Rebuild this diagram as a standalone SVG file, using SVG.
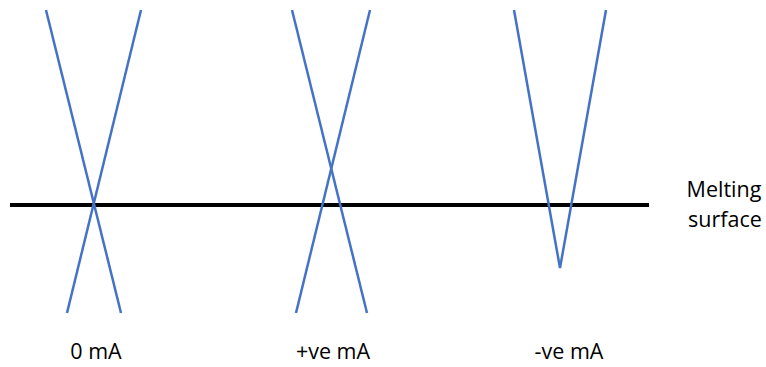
<svg xmlns="http://www.w3.org/2000/svg" width="766" height="367" viewBox="0 0 766 367">
<style>
.blue{stroke:#4472C4;stroke-width:2.5;fill:none}
.surf{stroke:#000;stroke-width:4}
text{font-family:"Open Sans","Liberation Sans",sans-serif;font-size:21.5px;fill:#000;text-anchor:middle}
</style>
<rect width="766" height="367" fill="#fff"/>
<g id="surface">
<line class="surf" x1="10" y1="205" x2="649" y2="205"/>
<text x="724" y="197">Melting</text>
<text x="725" y="227">surface</text>
</g>
<g id="zero">
<line class="blue" x1="46" y1="10" x2="121" y2="313"/>
<line class="blue" x1="141" y1="10" x2="67" y2="313"/>
<text x="96" y="359">0 mA</text>
</g>
<g id="positive">
<line class="blue" x1="292" y1="10" x2="367" y2="313"/>
<line class="blue" x1="370" y1="10" x2="296" y2="313"/>
<text x="333" y="359">+ve mA</text>
</g>
<g id="negative">
<polyline class="blue" points="514,10 560,268 606,10"/>
<text x="569" y="359">-ve mA</text>
</g>
</svg>
